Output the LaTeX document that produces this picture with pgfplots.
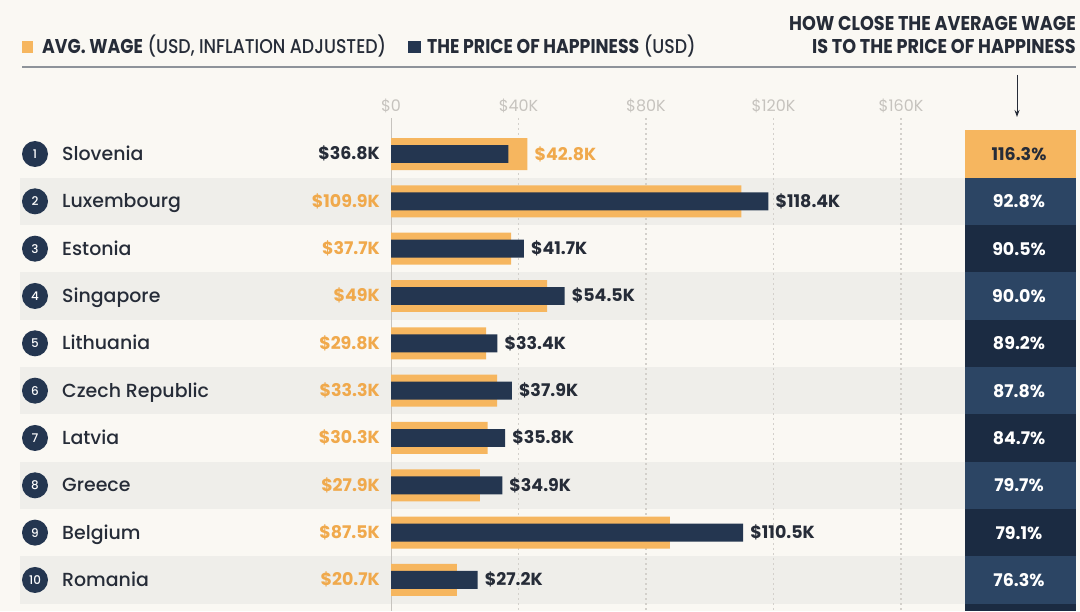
\documentclass[border=0pt]{standalone}
\usepackage{pgfplots}
\pgfplotsset{compat=1.18}
\usepackage{fontspec}
\setmainfont{Poppins}
\newfontfamily\cond{Poppins}[FakeStretch=0.885]
\newfontfamily\legb{Poppins}[FakeStretch=0.87]
\newfontfamily\med{Poppins}[UprightFont=* Medium]
\newfontfamily\condmed{Poppins}[UprightFont=* Medium, FakeStretch=0.87]
\usetikzlibrary{arrows.meta}

\definecolor{bg}{HTML}{FAF8F3}
\definecolor{band}{HTML}{EFEEEA}
\definecolor{orangebar}{HTML}{F6B65F}
\definecolor{navybar}{HTML}{243650}
\definecolor{orangetext}{HTML}{F0A94C}
\definecolor{darktext}{HTML}{262C38}
\definecolor{boxlight}{HTML}{2C4564}
\definecolor{boxdark}{HTML}{1B2B42}
\definecolor{gridc}{HTML}{D3D0CB}
\definecolor{tickc}{HTML}{C6C3BE}
\definecolor{sepc}{HTML}{8E939A}

\newcommand{\fs}[1]{\fontsize{#1}{#1}\selectfont}
\tikzset{rlab/.style={anchor=base west, inner sep=0pt, xshift=7bp, yshift=-6bp, text=darktext, font=\bfseries\fs{17.5}}}

\begin{document}
\begin{tikzpicture}[x=1bp,y=-1bp]
% background
\fill[bg] (0,0) rectangle (1080,611);
% row bands
\foreach \r in {2,4,6,8,10}{
  \fill[band] (20,{154+47.33*(\r-1)-23.67}) rectangle (965,{154+47.33*(\r-1)+23.67});
}
% grid lines
\draw[tickc, line width=1bp] (391,118) -- (391,611);
\foreach \v in {40,80,120,160}{
  \draw[gridc, line width=1.2bp, dash pattern=on 2bp off 3bp] ({391+3.1875*\v},118) -- ({391+3.1875*\v},611);
}
% tick labels
\foreach \v/\t in {0/\$0,40/\$40K,80/\$80K,120/\$120K,160/\$160K}{
  \node[anchor=base, inner sep=0pt, text=tickc, font=\fs{16}] at ({391+3.1875*\v},112) {\t};
}

\begin{axis}[at={(0,0)}, anchor=north west, scale only axis,
  width=1080bp, height=611bp,
  xmin=-122.667, xmax=216.157, ymin=-2.2537, ymax=10.6556,
  y dir=reverse, hide axis, clip=false]
\addplot[xbar, bar width=0.676, bar shift=0pt, fill=orangebar, draw=none]
  coordinates {(42.8,1) (109.9,2) (37.7,3) (49,4) (29.8,5) (33.3,6) (30.3,7) (27.9,8) (87.5,9) (20.7,10)};
\addplot[xbar, bar width=0.38, bar shift=0pt, fill=navybar, draw=none]
  coordinates {(36.8,1) (118.4,2) (41.7,3) (54.5,4) (33.4,5) (37.9,6) (35.8,7) (34.9,8) (110.5,9) (27.2,10)};
% right value labels
\node[rlab, text=orangetext] at (axis cs:42.8,1) {\$42.8K};
\node[rlab] at (axis cs:118.4,2) {\$118.4K};
\node[rlab] at (axis cs:41.7,3) {\$41.7K};
\node[rlab] at (axis cs:54.5,4) {\$54.5K};
\node[rlab] at (axis cs:33.4,5) {\$33.4K};
\node[rlab] at (axis cs:37.9,6) {\$37.9K};
\node[rlab] at (axis cs:35.8,7) {\$35.8K};
\node[rlab] at (axis cs:34.9,8) {\$34.9K};
\node[rlab] at (axis cs:110.5,9) {\$110.5K};
\node[rlab] at (axis cs:27.2,10) {\$27.2K};
\end{axis}

% left value labels
\node[anchor=base east, inner sep=0pt, text=darktext, font=\bfseries\fs{17.5}] at (380,160) {\$36.8K};
\foreach \r/\t in {2/\$109.9K, 3/\$37.7K, 4/\$49K, 5/\$29.8K, 6/\$33.3K, 7/\$30.3K, 8/\$27.9K, 9/\$87.5K, 10/\$20.7K}{
  \node[anchor=base east, inner sep=0pt, text=orangetext, font=\bfseries\fs{17.5}] at (380,{154+47.33*(\r-1)+6}) {\t};
}

% circles and country names
\foreach \r/\n in {1/Slovenia, 2/Luxembourg, 3/Estonia, 4/Singapore, 5/Lithuania, 6/Czech Republic, 7/Latvia, 8/Greece, 9/Belgium, 10/Romania}{
  \fill[navybar] (35,{154+47.33*(\r-1)}) circle (13bp);
  \node[anchor=center, inner sep=0pt, text=white, font=\med\fs{12}] at (35,{154+47.33*(\r-1)}) {\r};
  \node[anchor=base west, inner sep=0pt, text=darktext, font=\med\fs{19}] at (62,{154+47.33*(\r-1)+6.5}) {\n};
}

% percentage column
\fill[orangebar] (965,{154-23.67}) rectangle (1076,{154+23.67});
\foreach \r/\p/\bc in {2/92.8/boxlight, 3/90.5/boxdark, 4/90.0/boxlight, 5/89.2/boxdark, 6/87.8/boxlight, 7/84.7/boxdark, 8/79.7/boxlight, 9/79.1/boxdark, 10/76.3/boxlight}{
  \fill[\bc] (965,{154+47.33*(\r-1)-23.67}) rectangle (1076,{154+47.33*(\r-1)+23.67});
  \node[anchor=base, inner sep=0pt, text=white, font=\bfseries\fs{17.5}] at (1019,{154+47.33*(\r-1)+6.5}) {\p\%};
}
\fill[boxdark] (965,{154+47.33*10-23.67}) rectangle (1076,611);
\node[anchor=base, inner sep=0pt, text=darktext, font=\bfseries\fs{17.5}] at (1019,160.5) {116.3\%};

% legend
\fill[orangebar] (22,41) rectangle (33,53);
\node[anchor=base west, inner sep=0pt, text=darktext, font=\condmed\fs{20}] at (42,54) {{\legb\bfseries AVG. WAGE} (USD, INFLATION ADJUSTED)};
\fill[navybar] (408,41) rectangle (421,53);
\node[anchor=base west, inner sep=0pt, text=darktext, font=\condmed\fs{20}] at (427,54) {{\legb\bfseries THE PRICE OF HAPPINESS} (USD)};

% right header
\node[anchor=base east, inner sep=0pt, text=darktext, font=\cond\bfseries\fs{20}] at (1076,31) {HOW CLOSE THE AVERAGE WAGE};
\node[anchor=base east, inner sep=0pt, text=darktext, font=\cond\bfseries\fs{20}] at (1076,54) {IS TO THE PRICE OF HAPPINESS};

% separator and arrow
\draw[sepc, line width=2bp] (22,67) -- (1076,67);
\draw[darktext, line width=1bp, -{Stealth[length=7bp,width=5bp]}] (1017,75) -- (1017,117);
\end{tikzpicture}
\end{document}
